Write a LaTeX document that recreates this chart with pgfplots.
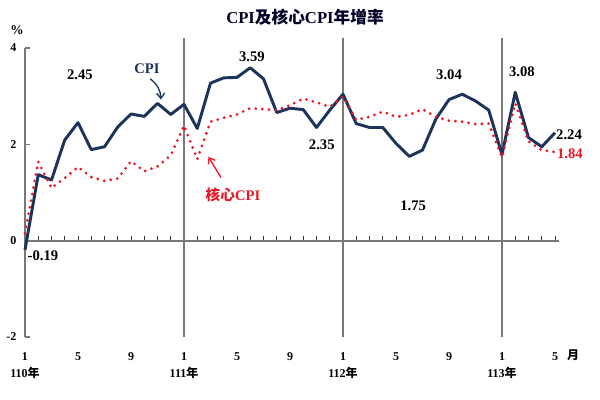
\documentclass[border=0pt]{standalone}
\usepackage{pgfplots}
\pgfplotsset{compat=1.18}
\usetikzlibrary{arrows.meta}
\usepackage{fontspec}
\setmainfont{Liberation Serif}
\newfontfamily\cjk{Noto Sans CJK TC}
\definecolor{cpinavy}{RGB}{28,52,92}
\definecolor{corered}{RGB}{232,24,36}
\definecolor{axgray}{RGB}{120,120,120}
\begin{document}
\begin{tikzpicture}
\useasboundingbox (-18.75pt,-47.25pt) rectangle (431.25pt,252.75pt);
% axis carrying the month / year tick labels
\begin{axis}[
  at={(0,0)}, anchor=south west,
  x=9.9375pt, y=36.125pt,
  xmin=0, xmax=40.3, ymin=-2, ymax=4,
  axis x line=bottom, axis y line=none,
  x axis line style={draw=none},
  major x tick style={draw=none},
  xtick={0,4,...,40},
  xticklabels={{1\\110{\cjk\bfseries 年}},5,9,{1\\111{\cjk\bfseries 年}},5,9,{1\\112{\cjk\bfseries 年}},5,9,{1\\113{\cjk\bfseries 年}},5},
  xticklabel style={align=center, font=\bfseries\fontsize{9}{13}\selectfont, yshift=-6pt, anchor=north},
]
\end{axis}
% main axis
\begin{axis}[
  at={(0,0)}, anchor=south west,
  x=9.9375pt, y=36.125pt,
  xmin=0, xmax=40.3, ymin=-2, ymax=4,
  axis y line=left, axis x line=middle,
  axis line style={-, draw=axgray, line width=1.6pt},
  xtick={0,...,40}, xticklabels={},
  xtick align=inside,
  x tick style={draw=black!80, line width=0.6pt},
  major tick length=3.5pt,
  ytick={-2,0,2,4}, yticklabels={-2,0,2,4},
  ytick align=inside,
  y tick style={draw=axgray, line width=1pt},
  yticklabel style={font=\bfseries\fontsize{9}{10}\selectfont, xshift=-3pt},
  clip=false,
]
\draw[axgray, line width=1.2pt] (axis cs:12,-2) -- (axis cs:12,4.2);
\draw[axgray, line width=1.2pt] (axis cs:24,-2) -- (axis cs:24,4.2);
\draw[axgray, line width=1.2pt] (axis cs:36,-2) -- (axis cs:36,4.2);

\addplot[cpinavy, line width=2.2pt, line join=round] coordinates {
(0,-0.19) (1,1.37) (2,1.26) (3,2.09) (4,2.45) (5,1.89) (6,1.95) (7,2.36) (8,2.63) (9,2.58) (10,2.85) (11,2.62)
(12,2.83) (13,2.33) (14,3.27) (15,3.38) (16,3.39) (17,3.59) (18,3.36) (19,2.66) (20,2.75) (21,2.72) (22,2.35) (23,2.71)
(24,3.04) (25,2.43) (26,2.35) (27,2.35) (28,2.02) (29,1.75) (30,1.88) (31,2.52) (32,2.93) (33,3.04) (34,2.90) (35,2.71)
(36,1.79) (37,3.08) (38,2.14) (39,1.95) (40,2.24)
};
\addplot[corered, line width=2.3pt, line cap=round, dash pattern=on 0pt off 5pt] coordinates {
(0,0.15) (1,1.64) (2,1.09) (3,1.30) (4,1.53) (5,1.32) (6,1.24) (7,1.29) (8,1.65) (9,1.44) (10,1.54) (11,1.77)
(12,2.39) (13,1.69) (14,2.47) (15,2.55) (16,2.62) (17,2.75) (18,2.73) (19,2.71) (20,2.81) (21,2.95) (22,2.87) (23,2.78)
(24,2.99) (25,2.51) (26,2.57) (27,2.68) (28,2.57) (29,2.61) (30,2.73) (31,2.57) (32,2.49) (33,2.47) (34,2.42) (35,2.43)
(36,1.73) (37,2.85) (38,2.06) (39,1.88) (40,1.84)
};

\node[font=\bfseries\fontsize{11}{12}\selectfont] at (axis cs:4.15,3.44) {2.45};
\node[font=\bfseries\fontsize{11}{12}\selectfont] at (axis cs:17.13,3.81) {3.59};
\node[font=\bfseries\fontsize{11}{12}\selectfont] at (axis cs:22.4,1.99) {2.35};
\node[font=\bfseries\fontsize{11}{12}\selectfont] at (axis cs:29.3,0.72) {1.75};
\node[font=\bfseries\fontsize{11}{12}\selectfont] at (axis cs:32.0,3.44) {3.04};
\node[font=\bfseries\fontsize{11}{12}\selectfont] at (axis cs:37.5,3.50) {3.08};
\node[font=\bfseries\fontsize{11}{12}\selectfont] at (axis cs:41.06,2.19) {2.24};
\node[font=\bfseries\fontsize{11}{12}\selectfont, text=corered] at (axis cs:41.13,1.80) {1.84};
\node[font=\bfseries\fontsize{11}{12}\selectfont] at (axis cs:1.36,-0.31) {-0.19};

\node[font=\bfseries\fontsize{11}{12}\selectfont, text=cpinavy] at (axis cs:9.2,3.58) {CPI};
\draw[cpinavy, line width=1pt, -{Straight Barb[length=4pt,width=6pt]}] (axis cs:9.45,3.36) to[bend left=25] (axis cs:10.26,2.93);
\node[font=\bfseries\fontsize{11}{12}\selectfont, text=corered] at (axis cs:15.7,0.95) {{\cjk\bfseries 核心}CPI};
\draw[corered, line width=1pt, -{Straight Barb[length=4pt,width=6pt]}] (axis cs:14.79,1.31) -- (axis cs:13.85,1.74);

\node[font=\bfseries\fontsize{12.5}{14}\selectfont, text=black!85!blue] at (axis cs:21.13,4.63) {CPI{\cjk\bfseries 及核心}CPI{\cjk\bfseries 年增率}};
\node[font=\bfseries\fontsize{10}{11}\selectfont] at (axis cs:-0.6,4.38) {\%};
\node[font=\cjk\bfseries\fontsize{9}{10}\selectfont] at (axis cs:41.36,-2.37) {月};
\end{axis}
\end{tikzpicture}
\end{document}
